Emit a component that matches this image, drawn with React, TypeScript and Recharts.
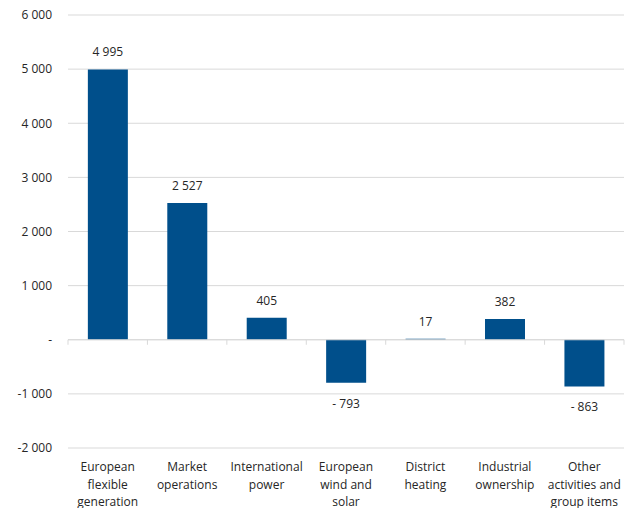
import React from "react";
import { BarChart, Bar, XAxis, YAxis, CartesianGrid, ReferenceLine, LabelList } from "recharts";

const categories: string[][] = [
  ["European", "flexible", "generation"],
  ["Market", "operations"],
  ["International", "power"],
  ["European", "wind and", "solar"],
  ["District", "heating"],
  ["Industrial", "ownership"],
  ["Other", "activities and", "group items"],
];
const values: number[] = [4995, 2527, 405, -793, 17, 382, -863];
const yTicks: number[] = [-2000, -1000, 0, 1000, 2000, 3000, 4000, 5000, 6000];

const data = categories.map((c, i) => ({ name: c.join(" "), lines: c, value: values[i] }));

const FONT = "'Open Sans', sans-serif";
const TEXT = "#262626";
const BAR = "#004f8b";
const GRID = "#d9d9d9";

const thousands = (n: number) => String(Math.abs(n)).replace(/\B(?=(\d{3})+(?!\d))/g, " ");
const axisFmt = (v: number) => (v === 0 ? "-" : (v < 0 ? "-" : "") + thousands(v));
const labelFmt = (v: number) => (v < 0 ? "- " + thousands(v) : thousands(v));

const XTick = (props: any) => {
  const { x, y, payload } = props;
  const lines: string[] = categories[payload.index] || [];
  return (
    <text x={x} y={y} textAnchor="middle" fill={TEXT} fontSize={12} fontFamily={FONT}>
      {lines.map((l, i) => (
        <tspan key={i} x={x} dy={i === 0 ? 23 : 17.5}>
          {l}
        </tspan>
      ))}
    </text>
  );
};

const ValueLabel = (props: any) => {
  const { x, y, width, height, value } = props;
  const top = Math.min(y, y + height);
  const bottom = Math.max(y, y + height);
  const cx = x + width / 2;
  const ty = value >= 0 ? top - 13 : bottom + 25;
  return (
    <text x={cx} y={ty} textAnchor="middle" fill={TEXT} fontSize={12} fontFamily={FONT}>
      {labelFmt(value)}
    </text>
  );
};

const ZeroLine = (props: any) => {
  const { x1, y1, x2, y2 } = props;
  const n = categories.length;
  const step = (x2 - x1) / n;
  const ticks = Array.from({ length: n + 1 }, (_, i) => x1 + i * step);
  return (
    <g>
      <line x1={x1} y1={y1} x2={x2} y2={y2} stroke={GRID} strokeWidth={1} />
      {ticks.map((tx, i) => (
        <line key={i} x1={tx} y1={y1} x2={tx} y2={y1 + 5} stroke={GRID} strokeWidth={1} />
      ))}
    </g>
  );
};

export default function App() {
  return (
    <div style={{ position: "absolute", left: 0, top: 0, background: "#fff" }}>
      <BarChart
        width={629}
        height={508}
        data={data}
        margin={{ top: 15, right: 5, bottom: 0, left: 0 }}
        barCategoryGap="25%"
      >
        <CartesianGrid vertical={false} stroke={GRID} strokeWidth={1} />
        <XAxis
          dataKey="name"
          axisLine={false}
          tickLine={false}
          tickSize={0}
          tickMargin={0}
          height={60}
          interval={0}
          tick={<XTick />}
        />
        <YAxis
          domain={[-2000, 6000]}
          ticks={yTicks}
          interval={0}
          axisLine={false}
          tickLine={false}
          width={68}
          tickSize={6}
          tickMargin={10}
          tickFormatter={axisFmt}
          tick={{ fill: TEXT, fontSize: 12, fontFamily: FONT }}
        />
        <Bar dataKey="value" fill={BAR} isAnimationActive={false}>
          <LabelList dataKey="value" content={<ValueLabel />} />
        </Bar>
        <ReferenceLine y={0} shape={<ZeroLine />} ifOverflow="visible" />
      </BarChart>
    </div>
  );
}
